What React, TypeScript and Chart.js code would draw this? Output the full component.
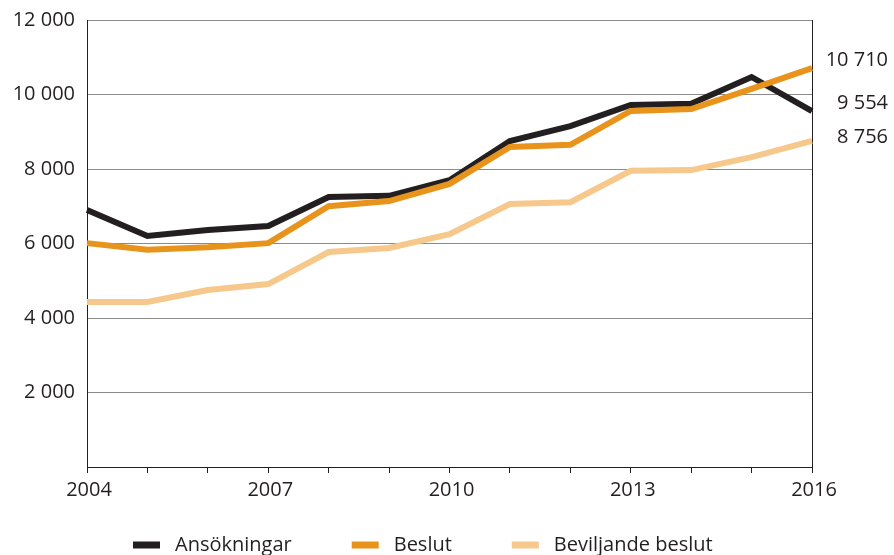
import React, { useEffect, useRef } from "react";
import { Chart, registerables } from "chart.js";

Chart.register(...registerables);

const years = ["2004","2005","2006","2007","2008","2009","2010","2011","2012","2013","2014","2015","2016"];
const ansokningar = [6900, 6200, 6360, 6470, 7250, 7280, 7700, 8750, 9150, 9720, 9750, 10470, 9554];
const beslut = [6010, 5830, 5900, 6010, 7000, 7140, 7600, 8590, 8650, 9560, 9610, 10150, 10710];
const beviljande = [4430, 4430, 4750, 4910, 5770, 5880, 6250, 7060, 7110, 7950, 7970, 8320, 8756];
const seriesNames = ["Ansökningar", "Beslut", "Beviljande beslut"];
const seriesColors = ["#231f20", "#e8941c", "#f6c88c"];
const yTicks = [0, 2000, 4000, 6000, 8000, 10000, 12000];

const FONT = "'Open Sans', 'Noto Sans', sans-serif";
const TEXT = "#231f20";
const fmt = (v: number) => String(v).replace(/\B(?=(\d{3})+(?!\d))/g, " ");

const endLabels = {
  id: "endLabels",
  afterDatasetsDraw(chart: any) {
    const ctx = chart.ctx;
    const offsets = [-8, -8, -4];
    ctx.save();
    ctx.font = `20px ${FONT}`;
    ctx.fillStyle = TEXT;
    ctx.textAlign = "right";
    ctx.textBaseline = "middle";
    chart.data.datasets.forEach((ds: any, i: number) => {
      const meta = chart.getDatasetMeta(i);
      const pt = meta.data[meta.data.length - 1];
      const v = ds.data[ds.data.length - 1];
      ctx.fillText(fmt(v), chart.width - 6, pt.y + offsets[i]);
    });
    ctx.restore();
  },
};

const bottomLegend = {
  id: "bottomLegend",
  afterDraw(chart: any) {
    const ctx = chart.ctx;
    ctx.save();
    ctx.font = `20px ${FONT}`;
    ctx.textBaseline = "middle";
    ctx.textAlign = "left";
    const y = chart.height - 10;
    let x = chart.chartArea.left + 46;
    const boxW = 27, boxH = 7, textGap = 15, itemGap = 60;
    chart.data.datasets.forEach((ds: any) => {
      ctx.fillStyle = ds.borderColor;
      ctx.fillRect(x, y - boxH / 2, boxW, boxH);
      x += boxW + textGap;
      ctx.fillStyle = TEXT;
      ctx.fillText(ds.label, x, y);
      x += ctx.measureText(ds.label).width + itemGap;
    });
    ctx.restore();
  },
};

export default function App() {
  const ref = useRef<HTMLCanvasElement>(null);
  useEffect(() => {
    const data = [ansokningar, beslut, beviljande];
    const chart = new Chart(ref.current!, {
      type: "line",
      data: {
        labels: years,
        datasets: data.map((d, i) => ({
          label: seriesNames[i],
          data: d,
          borderColor: seriesColors[i],
          backgroundColor: seriesColors[i],
          borderWidth: 6,
          pointRadius: 0,
          tension: 0,
          fill: false,
          order: i === 0 ? 2 : i === 1 ? 1 : 3,
        })),
      },
      options: {
        responsive: false,
        animation: false,
        layout: { padding: { top: 20, right: 82, left: 0, bottom: 48 } },
        plugins: {
          tooltip: { enabled: false },
          legend: { display: false },
        },
        scales: {
          x: {
            grid: { drawOnChartArea: false, tickLength: 6, color: TEXT, lineWidth: 1 },
            border: { color: TEXT, width: 1 },
            ticks: {
              autoSkip: false,
              maxRotation: 0,
              padding: 5,
              labelOffset: 2,
              color: TEXT,
              font: { family: FONT, size: 20 },
              callback: (_v: any, i: number) => (i % 3 === 0 ? years[i] : ""),
            },
            afterFit: (s: any) => { s.height = 40; s.paddingLeft = 0; s.paddingRight = 0; },
          },
          y: {
            min: 0,
            max: 12000,
            afterBuildTicks: (s: any) => { s.ticks = yTicks.map((v) => ({ value: v })); },
            grid: { color: "#8a8a8a", lineWidth: 1, drawTicks: false },
            border: { color: TEXT, width: 1 },
            ticks: {
              padding: 12,
              color: TEXT,
              font: { family: FONT, size: 20 },
              callback: (v: any) => (v === 0 ? "" : fmt(v)),
            },
            afterFit: (s: any) => { s.width = 87; s.paddingTop = 0; s.paddingBottom = 0; },
          },
          y2: {
            position: "right",
            min: 0,
            max: 12000,
            grid: { drawOnChartArea: false, drawTicks: false },
            border: { color: TEXT, width: 1 },
            ticks: { display: false },
            afterFit: (s: any) => { s.width = 0; s.paddingTop = 0; s.paddingBottom = 0; },
          },
        },
      },
      plugins: [endLabels, bottomLegend],
    });
    return () => chart.destroy();
  }, []);
  return (
    <div style={{ position: "absolute", left: 0, top: 0, width: 894, height: 555, background: "#fff" }}>
      <canvas ref={ref} width={894} height={555} />
    </div>
  );
}
